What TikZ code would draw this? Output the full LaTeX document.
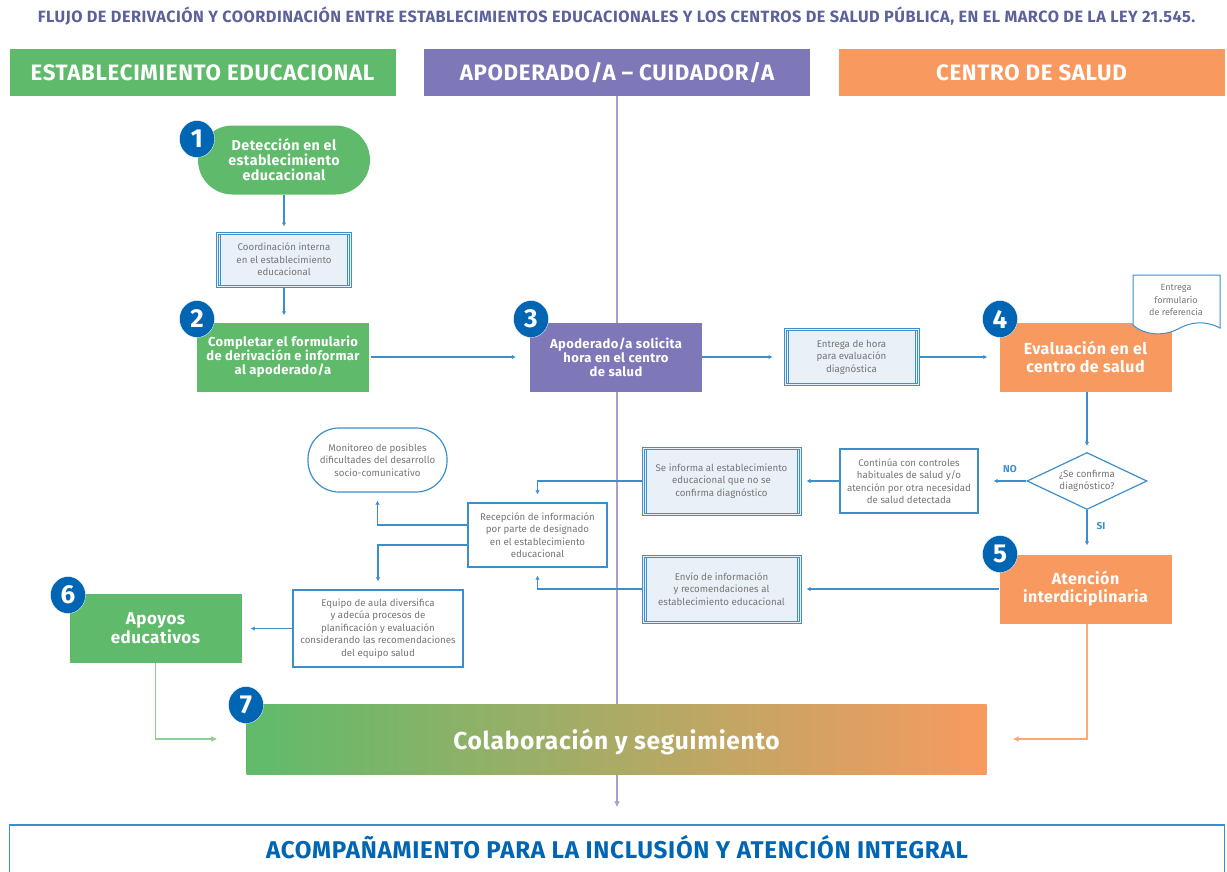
\documentclass[tikz,border=0pt]{standalone}
\usepackage{fontspec}
\setmainfont{Fira Sans}
\newfontfamily\widefont[LetterSpace=3]{Fira Sans}
\usetikzlibrary{arrows.meta,shapes.geometric}
\definecolor{edugreen}{HTML}{5FBB6B}
\definecolor{apopurple}{HTML}{7F78B8}
\definecolor{saludorange}{HTML}{F89A60}
\definecolor{badgeblue}{HTML}{0066B3}
\definecolor{lineblue}{HTML}{3D8FCB}
\definecolor{boxfill}{HTML}{E9F0F8}
\definecolor{smalltext}{HTML}{767676}
\definecolor{titletext}{HTML}{5B6199}
\tikzset{
	headbox/.style={fill=#1,text=white,minimum width=386,minimum height=47,inner sep=0,font=\widefont\bfseries\fontsize{22.3}{26}\selectfont},
	stepbox/.style={fill=#1,text=white,minimum width=172,minimum height=69,inner sep=0,align=center,font=\widefont\bfseries\fontsize{13}{14}\selectfont},
	bigstep/.style={font=\widefont\bfseries\fontsize{16}{18}\selectfont},
	badge/.style={ellipse,fill=badgeblue,draw=white,line width=.3pt,text=white,minimum width=35,minimum height=37,inner sep=0,font=\bfseries\fontsize{26}{26}\selectfont},
	plainbox/.style={draw=lineblue,line width=1.2pt,fill=white,inner sep=0,align=center,text=smalltext,font=\fontsize{9.7}{12.4}\selectfont},
	dblbox/.style={plainbox,line width=1pt,fill=boxfill,double=boxfill,double distance=1pt,
		path picture={
			\draw[lineblue,line width=.7pt] ([xshift=3pt]path picture bounding box.north west) -- ([xshift=3pt]path picture bounding box.south west);
			\draw[lineblue,line width=.7pt] ([xshift=-3pt]path picture bounding box.north east) -- ([xshift=-3pt]path picture bounding box.south east);
		}},
	conn/.style={draw=lineblue,line width=1.2pt,-{Latex[length=4pt,width=4.5pt]}},
	branch/.style={text=lineblue,font=\bfseries\fontsize{10}{10}\selectfont}
}
\begin{document}
\begin{tikzpicture}[x=1pt,y=-1pt]
	\useasboundingbox (0,0) rectangle (1227,871);
	\node (titulo) [text=titletext,font=\widefont\bfseries\fontsize{16.3}{18}\selectfont] at (616.5,16) {FLUJO DE DERIVACIÓN Y COORDINACIÓN ENTRE ESTABLECIMIENTOS EDUCACIONALES Y LOS CENTROS DE SALUD PÚBLICA, EN EL MARCO DE LA LEY 21.545.};
	\node (establecimiento) [headbox=edugreen] at (202.5,72.5) {ESTABLECIMIENTO EDUCACIONAL};
	\node (apoderado) [headbox=apopurple] at (617,72.5) {APODERADO/A – CUIDADOR/A};
	\node (centro) [headbox=saludorange] at (1031.5,72.5) {CENTRO DE SALUD};
	\node (acompanamiento) [draw=lineblue,line width=1.5pt,fill=white,minimum width=1215,minimum height=56,inner sep=0,text=badgeblue,text depth=12,font=\widefont\bfseries\fontsize{24.2}{26}\selectfont] at (617,853) {ACOMPAÑAMIENTO PARA LA INCLUSIÓN Y ATENCIÓN INTEGRAL};
	\draw[draw=apopurple!70,line width=1.2pt,-{Latex[length=6pt,width=6pt]},shorten >=17pt] (apoderado.south) -- (acompanamiento.north);
	\node (deteccion) [stepbox=edugreen,rounded corners=34.5,font=\widefont\bfseries\fontsize{14.3}{15}\selectfont] at (284,160) {Detección en el\\establecimiento\\educacional};
	\node (coordinacion) [dblbox,minimum width=133,minimum height=53] at (284,259.5) {Coordinación interna\\en el establecimiento\\educacional};
	\node (formulario) [stepbox=edugreen] at (283,357) {Completar el formulario\\de derivación e informar\\al apoderado/a};
	\node (solicita) [stepbox=apopurple] at (616,357) {Apoderado/a solicita\\hora en el centro\\de salud};
	\node (hora) [dblbox,minimum width=133,minimum height=55] at (851.5,357) {Entrega de hora\\para evaluación\\diagnóstica};
	\node (evaluacion) [stepbox=saludorange,bigstep] at (1085.5,357) {Evaluación en el\\centro de salud};
	\draw[draw=lineblue,line width=1pt,fill=white] (1133,275) -- (1220,275) -- (1220,328) .. controls (1205,320) and (1190,322) .. (1178,329) .. controls (1165,336) and (1145,336) .. (1133,325) -- cycle;
	\node (referencia) [text=smalltext,align=center,inner sep=0,font=\fontsize{9}{12.2}\selectfont] at (1176,300) {Entrega\\formulario\\de referencia};
	\node (confirma) [diamond,draw=lineblue,line width=1.2pt,fill=white,minimum width=120,minimum height=57,inner sep=0,aspect=2.1,align=center,text=smalltext,font=\fontsize{9.7}{12.4}\selectfont] at (1087,481) {¿Se confirma\\diagnóstico?};
	\node (continua) [plainbox,minimum width=138,minimum height=64] at (909,481) {Continúa con controles\\habituales de salud y/o\\atención por otra necesidad\\de salud detectada};
	\node (informa) [dblbox,minimum width=157,minimum height=66] at (721.5,481) {Se informa al establecimiento\\educacional que no se\\confirma diagnóstico};
	\node (recepcion) [plainbox,minimum width=139,minimum height=64] at (537.5,535) {Recepción de información\\por parte de designado\\en el establecimiento\\educacional};
	\node (monitoreo) [plainbox,rounded corners=31,minimum width=139,minimum height=64] at (377.5,460) {Monitoreo de posibles\\dificultades del desarrollo\\socio-comunicativo};
	\node (equipo) [plainbox,minimum width=170,minimum height=77] at (378,628.5) {Equipo de aula diversifica\\y adecúa procesos de\\planificación y evaluación\\considerando las recomendaciones\\del equipo salud};
	\node (atencion) [stepbox=saludorange,bigstep] at (1085.5,589) {Atención\\interdiciplinaria};
	\node (envio) [dblbox,minimum width=157,minimum height=66] at (721.5,589) {Envío de información\\y recomendaciones al\\establecimiento educacional};
	\node (apoyos) [stepbox=edugreen,font=\widefont\bfseries\fontsize{17}{19}\selectfont] at (155.5,628.5) {Apoyos\\educativos};
	\node (colaboracion) [left color=edugreen,right color=saludorange,text=white,minimum width=740,minimum height=70,inner sep=0,text depth=0,font=\widefont\bfseries\fontsize{24.5}{26}\selectfont] at (616.5,739) {Colaboración y seguimiento};
	\node (uno) [badge] at (197,139) {1};
	\node (dos) [badge] at (197,319) {2};
	\node (tres) [badge] at (531,319) {3};
	\node (cuatro) [badge] at (1000,319) {4};
	\node (cinco) [badge] at (1000,554) {5};
	\node (seis) [badge] at (68,595) {6};
	\node (siete) [badge] at (246,705) {7};
	\node (no) [branch] at (1010,469) {NO};
	\node (si) [branch] at (1101,526) {SI};
	\draw[conn,shorten >=6pt] (deteccion.south) -- (coordinacion.north);
	\draw[conn,shorten >=7pt] (coordinacion.south) -- (coordinacion.south |- formulario.north);
	\draw[conn,shorten <=2pt,shorten >=14pt] (formulario.east) -- (solicita.west);
	\draw[conn,shorten >=12pt] (solicita.east) -- (hora.west);
	\draw[conn,shorten >=12pt] (hora.east) -- (evaluacion.west);
	\draw[conn,shorten >=6pt] (evaluacion.south -| confirma.north) -- (confirma.north);
	\draw[conn,shorten >=15pt] (confirma.west) -- (continua.east);
	\draw[conn,shorten >=9pt] (confirma.south) -- (confirma.south |- atencion.north);
	\draw[conn,shorten >=6pt] (continua.west) -- (informa.east);
	\draw[conn,shorten >=8pt] (informa.west) -| (recepcion.north);
	\draw[conn,shorten >=8pt] (envio.west) -| (recepcion.south);
	\draw[conn,shorten >=6pt] (atencion.west) -- (envio.east);
	\draw[conn,shorten >=8pt] (recepcion.west |- 0,525) -| (monitoreo.south);
	\draw[conn,shorten >=8pt] (recepcion.west |- 0,545) -| (equipo.north);
	\draw[conn,shorten >=9pt] (equipo.west) -- (apoyos.east);
	\draw[draw=edugreen!70,line width=1.1pt,-{Latex[length=6pt,width=6pt]},shorten >=29pt] (apoyos.south) |- (colaboracion.west);
	\draw[draw=saludorange!85,line width=1.1pt,-{Latex[length=6pt,width=6pt]},shorten >=26pt] (atencion.south -| confirma.south) |- (colaboracion.east);
\end{tikzpicture}
\end{document}
